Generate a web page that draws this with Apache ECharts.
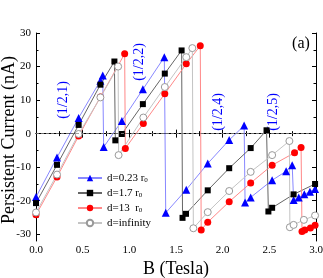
<!DOCTYPE html>
<html><head><meta charset="utf-8">
<script src="https://cdn.jsdelivr.net/npm/echarts@6/dist/echarts.min.js"></script>
<style>html,body{margin:0;padding:0;background:#fff}#c{width:323px;height:278px}</style>
</head><body><div id="c"></div>
<script>
// Persistent current (nA) versus B (Tesla), points as [B, I]
const seriesNames = ['d=0.23 r0', 'd=1.7 r0', 'd=13  r0', 'd=infinity'];
const dataD023 = [[0,-18.9],[0.225,-7.1],[0.457,4.7],[0.69,15.8],[0.715,17.3],[0.725,-4.0],[0.92,3.8],[1.145,13.2],[1.375,22.8],[1.39,-23.6],[1.61,-16.7],[1.84,-8.9],[2.07,-1.9],[2.23,2.4],[2.24,-20.5],[2.30,-19.0],[2.53,-13.9],[2.68,-11.2],[2.745,-9.4],[2.76,-19.8],[2.815,-19.0],[2.875,-18.1],[2.935,-17.3],[2.99,-16.5]];
const dataD17 = [[0,-20.7],[0.225,-9.3],[0.457,2.6],[0.69,14.6],[0.84,21.5],[0.85,-2.0],[0.92,-0.1],[1.145,8.8],[1.38,17.9],[1.56,24.8],[1.57,-25.1],[1.607,-23.9],[1.84,-16.9],[2.07,-10.3],[2.30,-4.3],[2.47,1.0],[2.49,-23.2],[2.53,-22.1],[2.76,-18.1],[2.99,-15.0]];
const dataD13 = [[0,-24.2],[0.225,-12.9],[0.457,-0.7],[0.69,10.9],[0.95,23.8],[0.957,-4.4],[1.15,3.0],[1.38,11.9],[1.61,20.8],[1.76,26.2],[1.77,-28.7],[1.84,-26.4],[2.07,-20.3],[2.30,-14.7],[2.53,-9.4],[2.77,-5.7],[2.84,-4.1],[2.85,-29.2],[2.88,-28.7],[2.94,-28.1],[2.99,-27.3]];
const dataDinf = [[0,-23.5],[0.225,-12.2],[0.457,-0.1],[0.69,10.8],[0.88,20.0],[0.885,-6.4],[1.15,4.8],[1.38,13.9],[1.61,22.8],[1.675,25.5],[1.686,-28.2],[1.84,-23.4],[2.07,-17.1],[2.30,-11.4],[2.53,-6.4],[2.715,-2.2],[2.72,-27.9],[2.76,-27.2],[2.87,-25.7],[2.99,-24.4]];
const xTickMin = 0, xTickMax = 3, xTickStep = 0.5;
const yMajorTicks = [-30,-20,-10,0,10,20,30];
const yMinorTicks = [-25,-15,-5,5,15,25];
const transitionLabels = ['(1/2,1)', '(1/2,2)', '(1/2,4)', '(1/2,5)'];
const panelLabel = '(a)';
const xTitle = 'B (Tesla)';
const yTitle = 'Persistent Current (nA)';

const FONT = '"Liberation Serif","Times New Roman",serif';
const legendRich = {
  'd=0.23 r0': 'd=0.23 r{s|0}',
  'd=1.7 r0': 'd=1.7 r{s|0}',
  'd=13  r0': 'd=13  r{s|0}',
  'd=infinity': 'd=infinity'
};
const chart = echarts.init(document.getElementById('c'), null, {renderer:'canvas'});
const axisLineStyle = {show:true, lineStyle:{color:'#000', width:1}};
function xAx(pos, labels){
  return {type:'value', position:pos, min:xTickMin, max:xTickMax, interval:xTickStep,
    axisLine:axisLineStyle,
    axisTick:{show:true, inside:true, length:4, lineStyle:{color:'#000'}},
    minorTick:{show:true, splitNumber:2, length:2.5, lineStyle:{color:'#000'}},
    splitLine:{show:false}, minorSplitLine:{show:false},
    axisLabel:{show:labels, margin:4, fontFamily:FONT, fontSize:11, color:'#000', formatter:v=>v.toFixed(1)}
  };
}
function yAx(pos, ticks, len, labels, line){
  return {type:'value', position:pos, min:-32, max:30,
    axisLine:{show:line, lineStyle:{color:'#000', width:1}},
    axisTick:{show:true, inside:true, length:len, customValues:ticks, lineStyle:{color:'#000'}},
    axisLabel:{show:labels, customValues:ticks, margin:5, fontFamily:FONT, fontSize:11, color:'#000'},
    splitLine:{show:false}
  };
}
function ser(name, data, symbol, size, color, lineColor, itemStyle){
  return {name, type:'line', data, xAxisIndex:0, yAxisIndex:0, symbol, symbolSize:size,
    showSymbol:true, showAllSymbol:true, animation:false,
    itemStyle: itemStyle || {color:color},
    lineStyle:{color:lineColor, width:1}};
}
const s = [
  ser(seriesNames[0], dataD023, 'triangle', 8, '#0000ff', '#8888ff'),
  ser(seriesNames[1], dataD17, 'rect', 6, '#000000', '#666666'),
  ser(seriesNames[2], dataD13, 'circle', 7, '#ff0000', '#ff8888'),
  ser(seriesNames[3], dataDinf, 'circle', 7, '#999', '#c4c4c4', {color:'#fff', borderColor:'#999', borderWidth:1})
];
s[0].markLine = {silent:true, symbol:'none', label:{show:false},
  lineStyle:{color:'#888', type:[3,2], width:0.8}, data:[{yAxis:0}]};
function txt(t, x, y, size, color, rot){
  return {type:'text', x, y, rotation:rot||0,
    style:{text:t, font:size+'px '+FONT, fill:color, align:'center', verticalAlign:'middle', textAlign:'center', textVerticalAlign:'middle'}};
}
const labelPos = [[63,100],[139,62],[218,112],[273,112]];
const graphics = transitionLabels.map((t,i)=>txt(t, labelPos[i][0], labelPos[i][1], 14, '#0000ff', Math.PI/2));
graphics.push(txt(panelLabel, 301, 44, 16, '#000'));
graphics.push(txt(yTitle, 9, 140, 18, '#000', Math.PI/2));
graphics.push(txt(xTitle, 176, 269, 18, '#000'));
chart.setOption({
  animation:false,
  backgroundColor:'#fff',
  grid:{left:36, right:7, top:33, bottom:37, containLabel:false, outerBoundsMode:'none'},
  xAxis:[xAx('bottom', true), xAx('top', false)],
  yAxis:[yAx('left', yMajorTicks, 4, true, true), yAx('left', yMinorTicks, 2.5, false, false),
         yAx('right', yMajorTicks, 4, false, true), yAx('right', yMinorTicks, 2.5, false, false)],
  legend:{orient:'vertical', left:72, top:167, itemWidth:24, itemHeight:8, itemGap:3,
    data:seriesNames, formatter:n=>legendRich[n],
    textStyle:{fontFamily:FONT, fontSize:11, color:'#000', lineHeight:12,
      rich:{s:{fontSize:7, lineHeight:7, verticalAlign:'bottom', fontFamily:FONT, color:'#000'}}}},
  series:s,
  graphic:graphics
});
</script></body></html>
